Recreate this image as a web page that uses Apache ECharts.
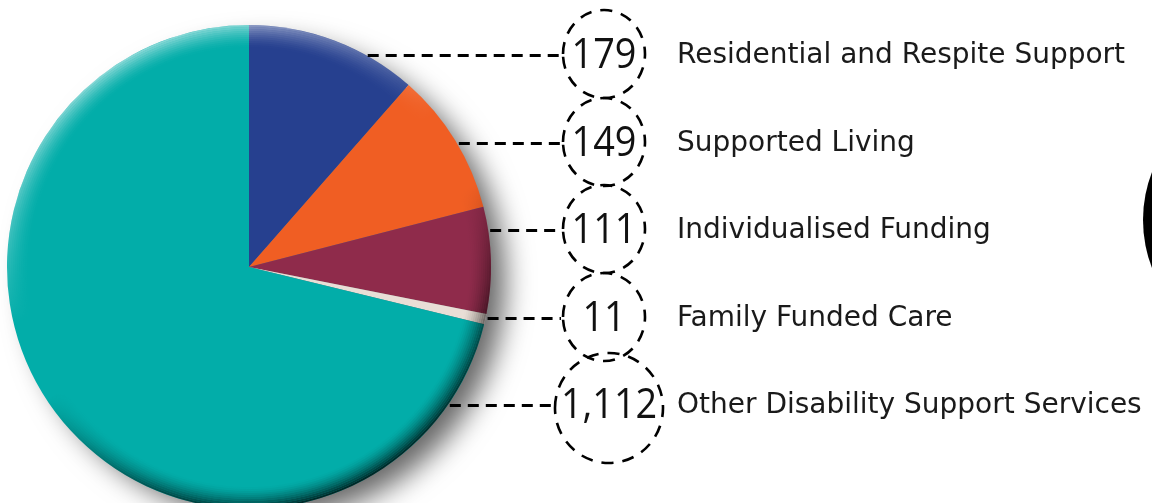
<!DOCTYPE html>
<html>
<head>
<meta charset="utf-8">
<script src="https://cdn.jsdelivr.net/npm/echarts@6/dist/echarts.min.js"></script>
<style>
  html, body { margin: 0; padding: 0; background: #fff; }
  #myChart { width: 1152px; height: 503px; }
</style>
</head>
<body>
<div id="myChart"></div>
<script>
// 数据
const categories = [
  'Residential and Respite Support',
  'Supported Living',
  'Individualised Funding',
  'Family Funded Care',
  'Other Disability Support Services'
]
const values = [179, 149, 111, 11, 1112]
const valueLabels = ['179', '149', '111', '11', '1,112']
const colors = ['#26408f', '#f05e23', '#8f2b4b', '#e9ded6', '#02ada9']

const cx = 249, cy = 267, r = 242
const rowY = function (i) { return Math.round(55 + i * 87.5) }
const circleX = 604

let myChart = echarts.init(document.getElementById('myChart'))

let graphic = []
// 右侧黑色圆（只露出一点）
graphic.push({
  type: 'circle', shape: { cx: 1276, cy: 220, r: 133 },
  style: { fill: '#000' }, z: 1
})
categories.forEach(function (name, i) {
  let y = rowY(i)
  let big = i === categories.length - 1
  let crx = big ? 54 : 41
  let cry = big ? 55 : 44
  let ccx = big ? 609 : circleX
  let ccy = big ? y + 3 : y - 1
  let x0 = cx + Math.sqrt(r * r - (y - cy) * (y - cy))
  graphic.push({
    type: 'line',
    shape: { x1: x0 + 2, y1: y + 0.5, x2: ccx - crx - 2, y2: y + 0.5 },
    style: { stroke: '#000', lineWidth: 3, lineDash: [11, 7] },
    z: 5
  })
  graphic.push({
    type: 'ellipse',
    shape: { cx: ccx, cy: ccy, rx: crx, ry: cry },
    style: { fill: 'none', stroke: '#000', lineWidth: 2.6, lineDash: [12, 9] },
    z: 5
  })
  graphic.push({
    type: 'text',
    x: ccx, y: y + 1, scaleX: 0.9,
    style: {
      text: valueLabels[i], fill: '#111',
      font: '42px "Open Sans", sans-serif',
      align: 'center', verticalAlign: 'middle'
    },
    z: 6
  })
  graphic.push({
    type: 'text',
    x: 677, y: y + 1,
    style: {
      text: name, fill: '#1a1a1a',
      font: '28px "DejaVu Sans", sans-serif',
      align: 'left', verticalAlign: 'middle'
    },
    z: 6
  })
})

// 边缘立体效果：多层细环叠加
let bevel = []
const bandW = 2, bandN = 11
for (let k = 0; k < bandN; k++) {
  let a = Math.pow(1 - k / bandN, 1.6)
  bevel.push({
    type: 'pie', silent: true, z: 3,
    center: [cx, cy], radius: [r - (k + 1) * bandW, r - k * bandW],
    label: { show: false }, labelLine: { show: false },
    itemStyle: {
      color: {
        type: 'linear', x: 0.25, y: 0, x2: 0.75, y2: 1,
        colorStops: [
          { offset: 0, color: 'rgba(255,255,255,' + (0.6 * a) + ')' },
          { offset: 0.4, color: 'rgba(255,255,255,0)' },
          { offset: 0.55, color: 'rgba(0,0,0,0)' },
          { offset: 0.8, color: 'rgba(0,0,0,' + (0.55 * a) + ')' },
          { offset: 1, color: 'rgba(0,0,0,' + (0.85 * a) + ')' }
        ]
      }
    },
    data: [{ value: 1 }]
  })
}

myChart.setOption({
  backgroundColor: '#fff',
  animation: false,
  graphic: graphic,
  series: [
    // 阴影
    {
      type: 'pie', silent: true, z: 1,
      center: [cx, cy], radius: [0, r - 4],
      label: { show: false }, labelLine: { show: false },
      itemStyle: {
        color: '#777',
        shadowBlur: 28, shadowOffsetX: 18, shadowOffsetY: 14,
        shadowColor: 'rgba(0,0,0,0.6)'
      },
      data: [{ value: 1 }]
    },
    {
      type: 'pie', z: 2,
      center: [cx, cy], radius: [0, r],
      startAngle: 90, clockwise: true,
      label: { show: false }, labelLine: { show: false },
      itemStyle: { borderWidth: 0 },
      data: categories.map(function (name, i) {
        return { name: name, value: values[i], itemStyle: { color: colors[i] } }
      })
    }
  ].concat(bevel)
})
</script>
</body>
</html>
